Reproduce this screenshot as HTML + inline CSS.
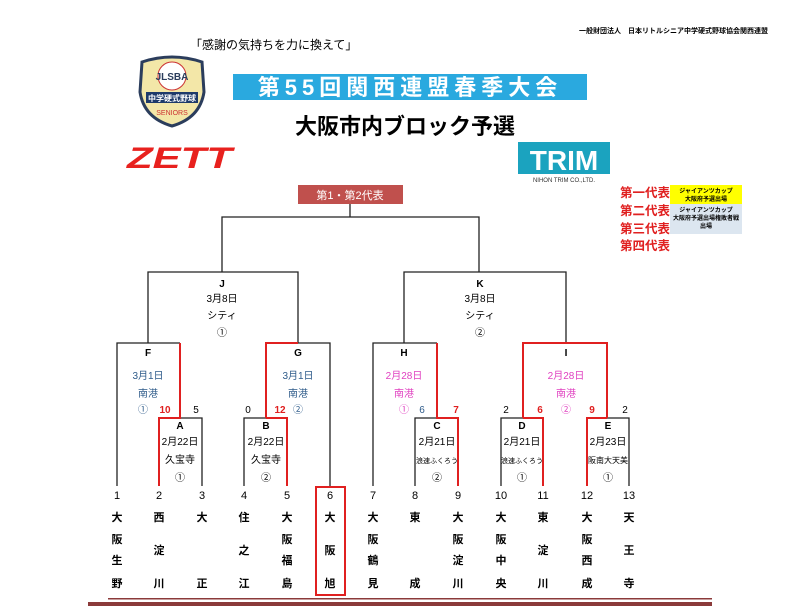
<!DOCTYPE html>
<html><head><meta charset="utf-8">
<style>
html,body{margin:0;padding:0;background:#fff;}
svg{display:block;}
text{font-family:"Liberation Sans","Noto Sans CJK JP",sans-serif;}
</style></head><body>
<svg width="800" height="616" viewBox="0 0 800 616" xmlns="http://www.w3.org/2000/svg">
<!-- header -->
<text x="768" y="33" font-size="7" text-anchor="end" font-weight="bold">一般財団法人　日本リトルシニア中学硬式野球協会関西連盟</text>
<text x="190" y="49" font-size="12">「感謝の気持ちを力に換えて」</text>
<!-- emblem -->
<path d="M142 62 Q172 52 202 62 L204 92 Q200 118 172 126 Q144 118 140 92 Z" fill="#f3e7a8" stroke="#2b3d5c" stroke-width="3"/>
<circle cx="172" cy="76" r="14" fill="#fff" stroke="#c33" stroke-width="1"/>
<text x="172" y="80" font-size="10" text-anchor="middle" font-weight="bold" fill="#2b3d5c">JLSBA</text>
<rect x="146" y="92" width="52" height="11" fill="#1e3a6a"/>
<text x="172" y="101" font-size="8" text-anchor="middle" fill="#fff" font-weight="bold">中学硬式野球</text>
<text x="172" y="115" font-size="7" text-anchor="middle" fill="#c33">SENIORS</text>
<!-- title banner -->
<rect x="233" y="74" width="354" height="26" fill="#2aa9df"/>
<text x="410" y="95" font-size="22" text-anchor="middle" font-weight="bold" fill="#fff" letter-spacing="5">第55回関西連盟春季大会</text>
<text x="405" y="134" font-size="22" text-anchor="middle" font-weight="bold" fill="#000">大阪市内ブロック予選</text>
<!-- ZETT -->
<text x="127" y="168" font-size="30" font-weight="bold" font-style="italic" fill="#e8211e" textLength="105" lengthAdjust="spacingAndGlyphs">ZETT</text>
<!-- TRIM -->
<rect x="518" y="142" width="92" height="32" fill="#1ba3bf"/>
<text x="564" y="170" font-size="28" text-anchor="middle" font-weight="bold" fill="#fff">TRIM</text>
<text x="564" y="182" font-size="6" text-anchor="middle" fill="#333">NIHON TRIM CO.,LTD.</text>
<!-- legend -->
<g font-size="12.5" font-weight="bold" fill="#e02020">
<text x="620" y="197">第一代表</text>
<text x="620" y="215">第二代表</text>
<text x="620" y="233">第三代表</text>
<text x="620" y="250">第四代表</text>
</g>
<rect x="670" y="185" width="72" height="19" fill="#ffff00"/>
<rect x="670" y="204" width="72" height="30" fill="#dce6f0"/>
<g font-size="6" text-anchor="middle" font-weight="bold">
<text x="706" y="193">ジャイアンツカップ</text><text x="706" y="201">大阪府予選出場</text>
<text x="706" y="212">ジャイアンツカップ</text><text x="706" y="220">大阪府予選出場権敗者戦</text><text x="706" y="228">出場</text>
</g>
<!-- top box -->
<rect x="298" y="185" width="105" height="19" fill="#c0504d"/>
<text x="350" y="199" font-size="11" text-anchor="middle" fill="#fff">第1・第2代表</text>
<!-- black lines -->
<g stroke="#222" stroke-width="1.3" fill="none">
<path d="M350 204 V217 M222 272 V217 H479 V272"/>
<path d="M148 343 V272 H298 V343"/>
<path d="M404 343 V272 H566 V343"/>
<path d="M117 486 V343 H180"/>
<path d="M180 418 H202 V486"/>
<path d="M244 486 V418 H266"/>
<path d="M298 343 H330 V486"/>
<path d="M373 486 V343 H437"/>
<path d="M415 486 V418 H437"/>
<path d="M501 486 V418 H523"/>
<path d="M607 418 H629 V486"/>
</g>
<!-- red lines -->
<g stroke="#e02020" stroke-width="2" fill="none">
<path d="M180 343 V418 H159 V486"/>
<path d="M266 418 V343 H298"/>
<path d="M266 418 H287 V486"/>
<path d="M437 343 V418 H458 V486"/>
<path d="M523 418 V343 H607 V418"/>
<path d="M523 418 H543 V486"/>
<path d="M607 418 H587 V486"/>
<rect x="316" y="487" width="29" height="108"/>
</g>
<!-- J K -->
<g font-size="10" text-anchor="middle">
<text x="222" y="287" font-weight="bold">J</text><text x="222" y="302">3月8日</text><text x="222" y="319">シティ</text><text x="222" y="336">①</text>
<text x="480" y="287" font-weight="bold">K</text><text x="480" y="302">3月8日</text><text x="480" y="319">シティ</text><text x="480" y="336">②</text>
<text x="148" y="356" font-weight="bold">F</text>
<text x="298" y="356" font-weight="bold">G</text>
<text x="404" y="356" font-weight="bold">H</text>
<text x="566" y="356" font-weight="bold">I</text>
</g>
<g font-size="10" text-anchor="middle" fill="#2e5b8a">
<text x="148" y="379">3月1日</text><text x="148" y="397">南港</text><text x="143" y="413">①</text>
<text x="298" y="379">3月1日</text><text x="298" y="397">南港</text><text x="298" y="413">②</text>
<text x="422" y="413">6</text>
</g>
<g font-size="10" text-anchor="middle" fill="#e040c0">
<text x="404" y="379">2月28日</text><text x="404" y="397">南港</text><text x="404" y="413">①</text>
<text x="566" y="379">2月28日</text><text x="566" y="397">南港</text><text x="566" y="413">②</text>
</g>
<g font-size="10" text-anchor="middle" font-weight="bold" fill="#e02020">
<text x="165" y="413">10</text><text x="280" y="413">12</text><text x="456" y="413">7</text><text x="540" y="413">6</text><text x="592" y="413">9</text>
</g>
<g font-size="10" text-anchor="middle">
<text x="196" y="413">5</text><text x="248" y="413">0</text><text x="506" y="413">2</text><text x="625" y="413">2</text>
</g>
<!-- A-E -->
<g font-size="10" text-anchor="middle">
<text x="180" y="429" font-weight="bold">A</text><text x="180" y="445">2月22日</text><text x="180" y="463">久宝寺</text><text x="180" y="481">①</text>
<text x="266" y="429" font-weight="bold">B</text><text x="266" y="445">2月22日</text><text x="266" y="463">久宝寺</text><text x="266" y="481">②</text>
<text x="437" y="429" font-weight="bold">C</text><text x="437" y="445">2月21日</text><text x="437" y="463" font-size="7">浪速ふくろう</text><text x="437" y="481">②</text>
<text x="522" y="429" font-weight="bold">D</text><text x="522" y="445">2月21日</text><text x="522" y="463" font-size="7">浪速ふくろう</text><text x="522" y="481">①</text>
<text x="608" y="429" font-weight="bold">E</text><text x="608" y="445">2月23日</text><text x="608" y="463" font-size="8">阪南大天美</text><text x="608" y="481">①</text>
</g>
<!-- teams -->
<g font-size="11" text-anchor="middle" font-weight="bold">
<text x="117" y="499" font-weight="normal">1</text><text x="159" y="499" font-weight="normal">2</text><text x="202" y="499" font-weight="normal">3</text><text x="244" y="499" font-weight="normal">4</text><text x="287" y="499" font-weight="normal">5</text><text x="330" y="499" font-weight="normal">6</text><text x="373" y="499" font-weight="normal">7</text><text x="415" y="499" font-weight="normal">8</text><text x="458" y="499" font-weight="normal">9</text><text x="501" y="499" font-weight="normal">10</text><text x="543" y="499" font-weight="normal">11</text><text x="587" y="499" font-weight="normal">12</text><text x="629" y="499" font-weight="normal">13</text>
<!-- 4-char -->
<text x="117" y="521">大</text><text x="117" y="543">阪</text><text x="117" y="564">生</text><text x="117" y="587">野</text>
<text x="287" y="521">大</text><text x="287" y="543">阪</text><text x="287" y="564">福</text><text x="287" y="587">島</text>
<text x="373" y="521">大</text><text x="373" y="543">阪</text><text x="373" y="564">鶴</text><text x="373" y="587">見</text>
<text x="458" y="521">大</text><text x="458" y="543">阪</text><text x="458" y="564">淀</text><text x="458" y="587">川</text>
<text x="501" y="521">大</text><text x="501" y="543">阪</text><text x="501" y="564">中</text><text x="501" y="587">央</text>
<text x="587" y="521">大</text><text x="587" y="543">阪</text><text x="587" y="564">西</text><text x="587" y="587">成</text>
<!-- 3-char -->
<text x="159" y="521">西</text><text x="159" y="554">淀</text><text x="159" y="587">川</text>
<text x="244" y="521">住</text><text x="244" y="554">之</text><text x="244" y="587">江</text>
<text x="330" y="521">大</text><text x="330" y="554">阪</text><text x="330" y="587">旭</text>
<text x="543" y="521">東</text><text x="543" y="554">淀</text><text x="543" y="587">川</text>
<text x="629" y="521">天</text><text x="629" y="554">王</text><text x="629" y="587">寺</text>
<!-- 2-char -->
<text x="202" y="521">大</text><text x="202" y="587">正</text>
<text x="415" y="521">東</text><text x="415" y="587">成</text>
</g>
<!-- bottom lines -->
<rect x="108" y="598" width="604" height="1.5" fill="#8b3a3a"/>
<rect x="88" y="602" width="624" height="4" fill="#8b3a3a"/>
</svg>
</body></html>
